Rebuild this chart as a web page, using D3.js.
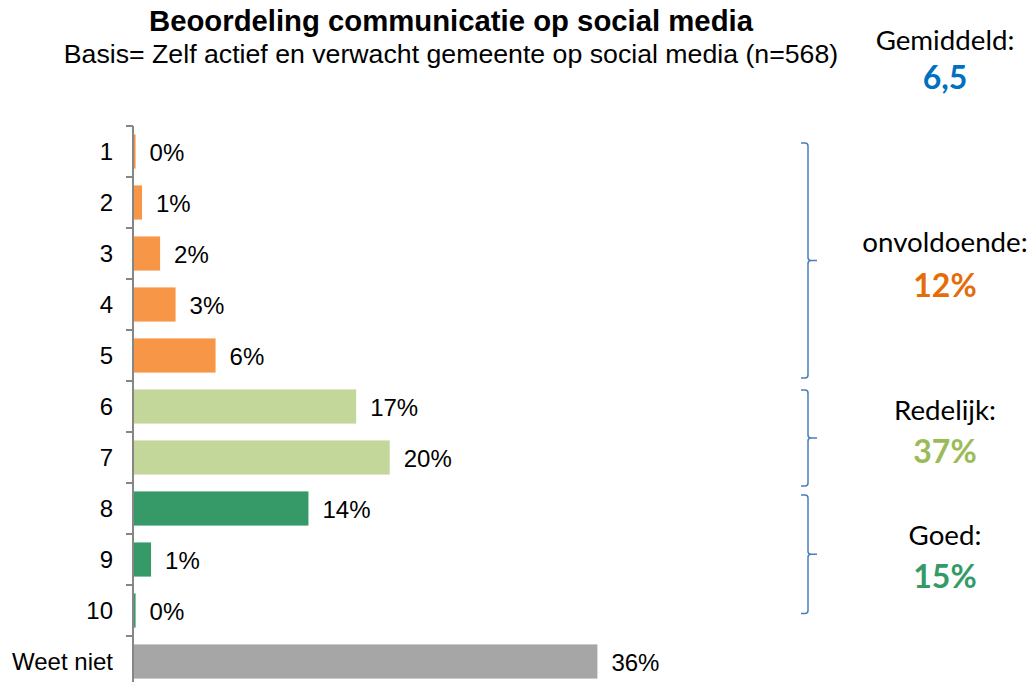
<!DOCTYPE html>
<html>
<head>
  <meta charset="utf-8">
  <title>Beoordeling communicatie op social media</title>
  <script src="https://cdn.jsdelivr.net/npm/d3@7"></script>
  <style>
    body { margin: 0; background: #ffffff; }
    svg { display: block; }
  </style>
</head>
<body>
  <script>
    // chart data
    var categories = ["1", "2", "3", "4", "5", "6", "7", "8", "9", "10", "Weet niet"];
    var values = [0.2, 0.7, 2.1, 3.3, 6.4, 17.3, 19.9, 13.6, 1.4, 0.2, 36.0];
    var groupOf = ["onv", "onv", "onv", "onv", "onv", "red", "red", "goed", "goed", "goed", "wn"];

    var groupNames = ["onvoldoende:", "Redelijk:", "Goed:"];
    var groupTotals = ["12%", "37%", "15%"];
    var groupFirst = ["1", "6", "8"];
    var groupLast = ["5", "7", "10"];

    var averageLabel = "Gemiddeld:";
    var averageValue = "6,5";

    var title = "Beoordeling communicatie op social media";
    var subtitle = "Basis= Zelf actief en verwacht gemeente op social media (n=568)";

    var barColor = { onv: "#F79646", red: "#C4D79B", goed: "#359A67", wn: "#A6A6A6" };
    var totalColor = ["#E46C0A", "#9BBB59", "#359A67"];

    var W = 1030, H = 682;
    var svg = d3.select("body").append("svg")
      .attr("width", W)
      .attr("height", H);

    // scales
    var y = d3.scaleBand()
      .domain(categories)
      .range([126, 126 + 51 * categories.length])
      .paddingInner(0.33)
      .paddingOuter(0.165);

    var x = d3.scaleLinear()
      .domain([0, 40])
      .range([133, 133 + 516]);

    var step = y.step();
    var arial = "'Liberation Sans', Arial, sans-serif";
    var calibri = "Lato, 'Open Sans', sans-serif";

    // bars
    svg.selectAll("rect.bar")
      .data(values)
      .enter().append("rect")
      .attr("class", "bar")
      .attr("x", x(0))
      .attr("y", function (d, i) { return y(categories[i]); })
      .attr("height", y.bandwidth())
      .attr("width", function (d) { return x(d) - x(0); })
      .attr("fill", function (d, i) { return barColor[groupOf[i]]; });

    // value labels
    svg.selectAll("text.val")
      .data(values)
      .enter().append("text")
      .attr("class", "val")
      .attr("x", function (d) { return x(d) + 14; })
      .attr("y", function (d, i) { return y(categories[i]) + y.bandwidth() / 2 + 1; })
      .attr("dominant-baseline", "central")
      .style("font-family", arial)
      .style("font-size", "24px")
      .style("fill", "#000")
      .text(function (d) { return Math.round(d) + "%"; });

    // y axis (labels only, ticks drawn between categories)
    var yAxis = d3.axisLeft(y).tickSize(0).tickPadding(20);
    var gy = svg.append("g")
      .attr("transform", "translate(" + x(0) + ",0)")
      .call(yAxis);
    gy.select(".domain").remove();
    gy.selectAll("text")
      .style("font-family", arial)
      .style("font-size", "24px")
      .style("fill", "#000")
      .attr("dy", "0.35em");

    svg.append("line")
      .attr("x1", x(0)).attr("x2", x(0))
      .attr("y1", y(categories[0]) - step * 0.165).attr("y2", H)
      .attr("stroke", "#868686").attr("stroke-width", 2);

    svg.selectAll("line.tick")
      .data(categories)
      .enter().append("line")
      .attr("class", "tick")
      .attr("x1", x(0) - 7).attr("x2", x(0))
      .attr("y1", function (d) { return y(d) - step * 0.165; })
      .attr("y2", function (d) { return y(d) - step * 0.165; })
      .attr("stroke", "#868686").attr("stroke-width", 2);

    // title
    svg.append("text")
      .attr("x", 451).attr("y", 31)
      .attr("text-anchor", "middle")
      .style("font-family", arial)
      .style("font-weight", "bold")
      .style("font-size", "29.3px")
      .text(title);

    svg.append("text")
      .attr("x", 451).attr("y", 63)
      .attr("text-anchor", "middle")
      .style("font-family", arial)
      .style("font-size", "26.7px")
      .text(subtitle);

    // average
    var cx = 945;
    svg.append("text")
      .attr("x", cx).attr("y", 50)
      .attr("text-anchor", "middle")
      .style("font-family", calibri)
      .style("font-size", "27.7px")
      .text(averageLabel);
    svg.append("text")
      .attr("x", cx).attr("y", 89)
      .attr("text-anchor", "middle")
      .style("font-family", calibri)
      .style("font-weight", "bold")
      .style("font-size", "32px")
      .style("fill", "#0070C0")
      .text(averageValue);

    // brackets with group totals
    var adjTop = [8.5, 0.5, 3.5];
    var adjBot = [5.5, 11.5, -14];
    var labelOff = [-9, -18, -9];
    var totalOff = [36, 25, 34];

    groupNames.forEach(function (name, i) {
      var top = y(groupFirst[i]) + adjTop[i];
      var bot = y(groupLast[i]) + y.bandwidth() + adjBot[i];
      var mid = (top + bot) / 2;
      var x0 = 801, x1 = 808, x2 = 817, r = 3;
      var p = "M" + x0 + "," + top +
        " H" + (x1 - r) + " Q" + x1 + "," + top + " " + x1 + "," + (top + r) +
        " V" + (mid - r) + " Q" + x1 + "," + mid + " " + (x1 + r) + "," + mid +
        " H" + x2 +
        " M" + (x1 + r) + "," + mid + " Q" + x1 + "," + mid + " " + x1 + "," + (mid + r) +
        " V" + (bot - r) + " Q" + x1 + "," + bot + " " + (x1 - r) + "," + bot +
        " H" + x0;
      svg.append("path")
        .attr("d", p)
        .attr("fill", "none")
        .attr("stroke", "#4A7EBB")
        .attr("stroke-width", 1.5);

      svg.append("text")
        .attr("x", cx).attr("y", mid + labelOff[i])
        .attr("text-anchor", "middle")
        .style("font-family", calibri)
        .style("font-size", "27.7px")
        .text(name);
      svg.append("text")
        .attr("x", cx).attr("y", mid + totalOff[i])
        .attr("text-anchor", "middle")
        .style("font-family", calibri)
        .style("font-weight", "bold")
        .style("font-size", "32px")
        .style("fill", totalColor[i])
        .text(groupTotals[i]);
    });
  </script>
</body>
</html>
